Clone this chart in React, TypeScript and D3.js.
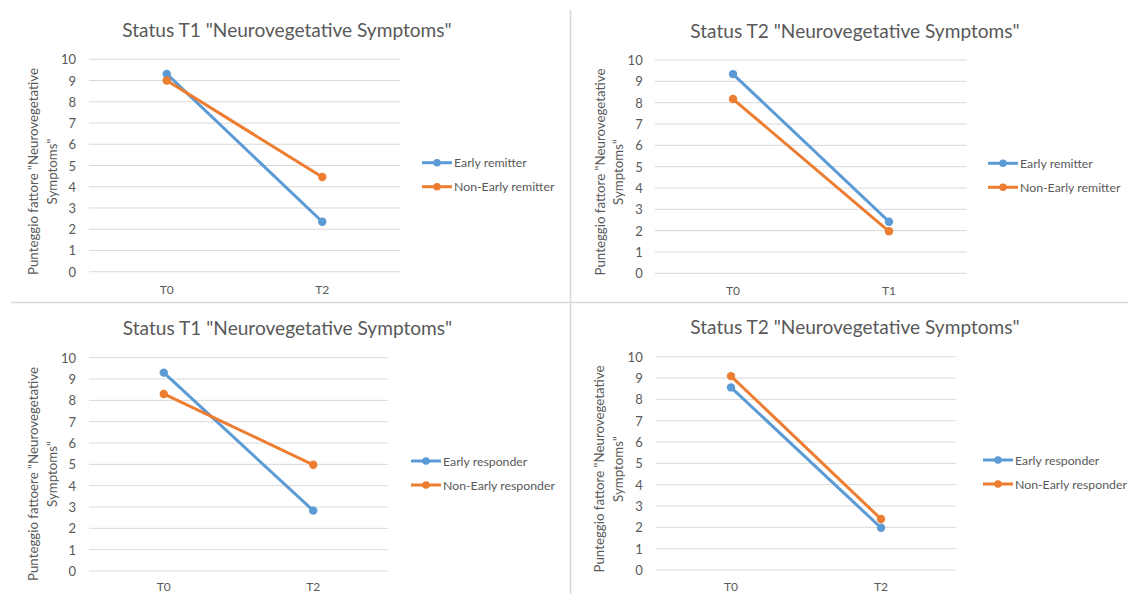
import React from "react";
import * as d3 from "d3";

// values
const titles = [
  'Status T1 "Neurovegetative Symptoms"',
  'Status T2 "Neurovegetative Symptoms"',
  'Status T1 "Neurovegetative Symptoms"',
  'Status T2 "Neurovegetative Symptoms"',
];
const categories = [["T0", "T2"], ["T0", "T1"], ["T0", "T2"], ["T0", "T2"]];
const seriesNames = [
  ["Early remitter", "Non-Early remitter"],
  ["Early remitter", "Non-Early remitter"],
  ["Early responder", "Non-Early responder"],
  ["Early responder", "Non-Early responder"],
];
const earlyValues = [[9.31, 2.35], [9.34, 2.42], [9.3, 2.83], [8.56, 1.98]];
const nonEarlyValues = [[9.0, 4.46], [8.17, 1.97], [8.3, 4.98], [9.09, 2.39]];
const yLabels = [
  ['Punteggio fattore "Neurovegetative', 'Symptoms"'],
  ['Punteggio fattore "Neurovegetative', 'Symptoms"'],
  ['Punteggio fattoere "Neurovegetative', 'Symptoms"'],
  ['Punteggio fattore "Neurovegetative', 'Symptoms"'],
];
const yTicks = [0, 1, 2, 3, 4, 5, 6, 7, 8, 9, 10];

const colors = ["#5b9bd5", "#ed7d31"];
const FONT = "Lato, 'Open Sans', sans-serif";
const TEXT = "#595959";

// panel geometry
const layout = [
  { x0: 89, x1: 400, y0: 59.3, y1: 271.7, tx: 287, ty: 29.3, lx: [33, 51.7], ly: 171.5, legX: 422, legY: 162.7, xlab: 289, tickR: 76 },
  { x0: 655, x1: 967, y0: 60, y1: 273.3, tx: 855, ty: 30, lx: [600, 618.3], ly: 172, legX: 988, legY: 163.3, xlab: 290.5, tickR: 642.7 },
  { x0: 89, x1: 388, y0: 357.7, y1: 571, tx: 287.5, ty: 327.7, lx: [33.3, 51.7], ly: 474, legX: 411, legY: 461, xlab: 586.5, tickR: 76 },
  { x0: 656, x1: 956, y0: 356.7, y1: 570, tx: 855, ty: 326.7, lx: [599.3, 618.3], ly: 469, legX: 983, legY: 460, xlab: 586, tickR: 642.7 },
];

function Panel({ i }: { i: number }) {
  const L = layout[i];
  const x = d3.scaleBand().domain(categories[i]).range([L.x0, L.x1]);
  const y = d3.scaleLinear().domain([0, 10]).range([L.y1, L.y0]);
  const cx = (c: string) => (x(c) as number) + x.bandwidth() / 2;
  const series = [earlyValues[i], nonEarlyValues[i]];
  const line = d3
    .line<number>()
    .x((_, j) => cx(categories[i][j]))
    .y((d) => y(d));

  return (
    <g>
      <text x={L.tx} y={L.ty} textAnchor="middle" dominantBaseline="central" fontSize={19.1} fill={TEXT}>
        {titles[i]}
      </text>
      {yTicks.map((t) => (
        <g key={t}>
          <line x1={L.x0} x2={L.x1} y1={y(t)} y2={y(t)} stroke="#d9d9d9" strokeWidth={1} />
          <text x={L.tickR} y={y(t)} textAnchor="end" dominantBaseline="central" fontSize={13} fill={TEXT}>
            {t}
          </text>
        </g>
      ))}
      {categories[i].map((c) => (
        <text key={c} x={cx(c)} y={L.xlab} textAnchor="middle" dominantBaseline="central" fontSize={12} fill={TEXT}>
          {c}
        </text>
      ))}
      {yLabels[i].map((s, k) => (
        <text
          key={k}
          transform={`translate(${L.lx[k]},${L.ly}) rotate(-90)`}
          textAnchor="middle"
          dominantBaseline="central"
          fontSize={13.3}
          fill={TEXT}
        >
          {s}
        </text>
      ))}
      {series.map((vals, s) => (
        <g key={s}>
          <path d={line(vals) || ""} fill="none" stroke={colors[s]} strokeWidth={3} strokeLinecap="round" />
          {vals.map((v, j) => (
            <circle key={j} cx={cx(categories[i][j])} cy={y(v)} r={4.2} fill={colors[s]} />
          ))}
        </g>
      ))}
      {seriesNames[i].map((n, s) => {
        const ly = L.legY + s * 24;
        return (
          <g key={n}>
            <line x1={L.legX} x2={L.legX + 30} y1={ly} y2={ly} stroke={colors[s]} strokeWidth={3} />
            <circle cx={L.legX + 15} cy={ly} r={3.8} fill={colors[s]} />
            <text x={L.legX + 32} y={ly} dominantBaseline="central" fontSize={12.3} fill={TEXT}>
              {n}
            </text>
          </g>
        );
      })}
    </g>
  );
}

export default function App() {
  return (
    <svg
      width={1128}
      height={594}
      style={{ position: "absolute", left: 0, top: 0, fontFamily: FONT, background: "#fff" }}
    >
      <rect width={1128} height={594} fill="#fff" />
      <line x1={570.5} x2={570.5} y1={10} y2={594} stroke="#d9d9d9" strokeWidth={1.5} />
      <line x1={11} x2={1128} y1={302.5} y2={302.5} stroke="#d9d9d9" strokeWidth={1.5} />
      {layout.map((_, i) => (
        <Panel key={i} i={i} />
      ))}
    </svg>
  );
}
